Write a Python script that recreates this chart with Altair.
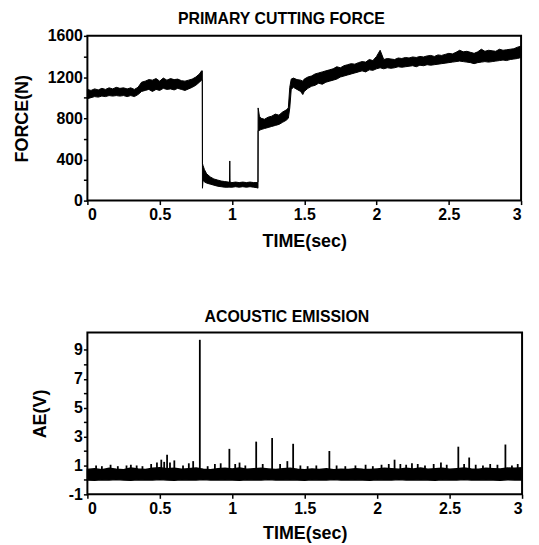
import altair as alt
import pandas as pd

# ---------------- data ----------------
# Primary cutting force: envelope (low / high) of the noisy trace
force_t = [0.00, 0.025, 0.05, 0.075, 0.10, 0.125, 0.15, 0.175, 0.20, 0.225, 0.25, 0.275, 0.30, 0.325,
           0.35, 0.375, 0.40, 0.425, 0.45, 0.475, 0.50, 0.525, 0.55, 0.575, 0.60, 0.625, 0.65, 0.675,
           0.70, 0.725, 0.75, 0.775, 0.79, 0.795,
           0.796, 0.80, 0.81, 0.825, 0.85, 0.875, 0.90, 0.925, 0.95, 0.975, 0.983, 0.985, 0.987,
           1.00, 1.025, 1.05, 1.075, 1.10, 1.125, 1.15, 1.175, 1.18,
           1.181, 1.19, 1.20, 1.225, 1.25, 1.275, 1.30, 1.325, 1.35, 1.375, 1.39,
           1.40, 1.41, 1.425, 1.45, 1.475, 1.49, 1.50, 1.525, 1.55, 1.575, 1.60, 1.625, 1.65, 1.675,
           1.70, 1.725, 1.75, 1.775, 1.80, 1.825, 1.85, 1.875, 1.90, 1.925, 1.95, 1.975, 2.00, 2.025,
           2.05, 2.075, 2.10, 2.125, 2.15, 2.175, 2.20, 2.225, 2.25, 2.275, 2.30, 2.325, 2.35, 2.375,
           2.40, 2.425, 2.45, 2.475, 2.50, 2.525, 2.55, 2.575, 2.60, 2.625, 2.65, 2.675, 2.70, 2.725,
           2.75, 2.775, 2.80, 2.825, 2.85, 2.875, 2.90, 2.925, 2.95, 2.975, 3.00]
force_lo = [990, 1000, 1010, 1005, 1015, 1010, 1020, 1015, 1020, 1015, 1020, 1010, 1020, 1010,
            1030, 1060, 1070, 1080, 1060, 1080, 1070, 1090, 1080, 1085, 1075, 1090, 1080, 1070,
            1085, 1100, 1120, 1150, 1170, 1170,
            120, 200, 180, 170, 160, 150, 140, 135, 130, 130, 130, 130, 130,
            130, 135, 130, 135, 130, 135, 130, 125, 120,
            680, 680, 690, 700, 710, 720, 730, 740, 760, 780, 800,
            900, 1080, 1100, 1080, 1060, 1030, 1060, 1090, 1110, 1120, 1140, 1130, 1150, 1160,
            1170, 1180, 1200, 1210, 1220, 1230, 1240, 1250, 1260, 1250, 1270, 1265, 1280, 1290,
            1280, 1290, 1285, 1290, 1300, 1295, 1300, 1305, 1310, 1300, 1315, 1310, 1320, 1315,
            1320, 1325, 1330, 1335, 1340, 1345, 1350, 1355, 1350, 1345, 1340, 1330, 1340, 1345,
            1350, 1345, 1350, 1355, 1360, 1365, 1360, 1370, 1375, 1380, 1390]
force_hi = [1080, 1070, 1085, 1075, 1090, 1080, 1095, 1085, 1100, 1090, 1095, 1085, 1095, 1080,
            1100, 1150, 1160, 1175, 1170, 1185, 1160, 1190, 1170, 1185, 1175, 1180, 1165, 1160,
            1170, 1180, 1200, 1230, 1260, 1260,
            360, 340, 300, 260, 230, 210, 200, 190, 185, 180, 180, 385, 180,
            175, 180, 175, 180, 175, 180, 175, 175, 180,
            900, 820, 800, 790, 810, 820, 840, 830, 860, 880, 900,
            1100, 1180, 1190, 1175, 1170, 1160, 1180, 1200, 1210, 1230, 1240, 1250, 1260, 1270,
            1280, 1300, 1290, 1310, 1320, 1330, 1325, 1340, 1350, 1345, 1370, 1360, 1400, 1460,
            1370, 1380, 1375, 1370, 1385, 1380, 1390, 1385, 1395, 1390, 1400, 1395, 1405, 1410,
            1400, 1415, 1410, 1420, 1430, 1425, 1440, 1460, 1445, 1450, 1440, 1430, 1445, 1470,
            1450, 1460, 1455, 1450, 1470, 1460, 1465, 1470, 1475, 1490, 1500]

# Acoustic emission: base noise band (low / high) and individual bursts
ae_band_t = [0.00, 0.05, 0.10, 0.15, 0.20, 0.25, 0.30, 0.35, 0.40, 0.45, 0.50, 0.55, 0.60, 0.65,
             0.70, 0.75, 0.80, 0.85, 0.90, 0.95, 1.00, 1.05, 1.10, 1.15, 1.20, 1.25, 1.30, 1.35,
             1.40, 1.45, 1.50, 1.55, 1.60, 1.65, 1.70, 1.75, 1.80, 1.85, 1.90, 1.95, 2.00, 2.05,
             2.10, 2.15, 2.20, 2.25, 2.30, 2.35, 2.40, 2.45, 2.50, 2.55, 2.60, 2.65, 2.70, 2.75,
             2.80, 2.85, 2.90, 2.95, 3.00]
ae_band_lo = [0.00, -0.02, 0.01, -0.01, 0.02, 0.00, -0.02, 0.01, 0.00, -0.01, 0.02, 0.00, -0.02,
              0.01, 0.00, -0.01, 0.02, 0.00, -0.01, 0.01, 0.00, -0.02, 0.01, 0.00, -0.01, 0.02,
              0.00, -0.01, 0.01, 0.00, -0.02, 0.01, 0.00, -0.01, 0.02, 0.00, -0.01, 0.01, 0.00,
              -0.02, 0.01, 0.00, -0.01, 0.02, 0.00, -0.01, 0.01, 0.00, -0.02, 0.01, 0.00, -0.01,
              0.02, 0.00, -0.01, 0.01, 0.00, -0.02, 0.01, 0.00, 0.00]
ae_band_hi = [0.72, 0.78, 0.70, 0.80, 0.74, 0.70, 0.82, 0.76, 0.72, 0.80, 0.85, 0.78, 0.80, 0.74,
              0.78, 0.82, 0.74, 0.70, 0.78, 0.80, 0.76, 0.82, 0.74, 0.78, 0.80, 0.76, 0.72, 0.78,
              0.80, 0.74, 0.70, 0.76, 0.72, 0.78, 0.70, 0.74, 0.72, 0.78, 0.74, 0.72, 0.76, 0.80,
              0.78, 0.74, 0.80, 0.76, 0.82, 0.74, 0.78, 0.80, 0.74, 0.78, 0.82, 0.76, 0.74, 0.80,
              0.78, 0.76, 0.82, 0.80, 0.84]
ae_spike_t = [0.06, 0.10, 0.16, 0.21, 0.27, 0.30, 0.34, 0.38, 0.44, 0.48, 0.51, 0.53, 0.55, 0.57,
              0.60, 0.66, 0.70, 0.73, 0.776, 0.83, 0.88, 0.92, 0.98, 1.02, 1.05, 1.09, 1.165, 1.21,
              1.275, 1.33, 1.38, 1.42, 1.47, 1.52, 1.58, 1.67, 1.72, 1.78, 1.85, 1.92, 1.97, 2.03,
              2.08, 2.12, 2.16, 2.20, 2.24, 2.28, 2.33, 2.39, 2.44, 2.48, 2.56, 2.60, 2.635, 2.68,
              2.73, 2.78, 2.83, 2.885, 2.93, 2.97]
ae_spike_v = [1.00, 0.95, 1.05, 0.95, 1.00, 1.05, 1.00, 0.95, 1.10, 1.20, 1.40, 1.25, 1.75, 1.20,
              1.35, 1.00, 1.15, 1.30, 9.70, 0.95, 1.10, 1.15, 2.15, 1.10, 1.20, 1.00, 2.65, 1.10,
              2.90, 1.10, 1.30, 2.50, 1.00, 0.95, 1.00, 2.00, 1.00, 0.95, 1.00, 1.05, 0.95, 1.05,
              1.10, 1.40, 1.10, 1.05, 1.15, 1.10, 1.00, 1.10, 1.20, 1.05, 2.30, 1.10, 1.55, 1.05,
              1.00, 1.10, 1.05, 2.45, 1.00, 1.10]

time_ticks = [0, 0.5, 1, 1.5, 2, 2.5, 3]
force_ticks = [0, 200, 400, 600, 800, 1000, 1200, 1400, 1600]
ae_ticks = [-1, 0, 1, 2, 3, 4, 5, 6, 7, 8, 9]

force_df = pd.DataFrame({"t": force_t, "lo": force_lo, "hi": force_hi})
band_df = pd.DataFrame({"t": ae_band_t, "lo": ae_band_lo, "hi": ae_band_hi})
spike_df = pd.DataFrame({"t": ae_spike_t, "v": ae_spike_v, "base": [0.4] * len(ae_spike_t)})

FONT = "Liberation Sans"

xs = alt.Scale(domain=[0, 3], nice=False, zero=False)

x_axis_top = alt.Axis(values=time_ticks, format="~g", title="TIME(sec)", grid=False,
                      tickSize=4, labelPadding=2, titlePadding=10, labelOverlap=False)
x_axis_bot = alt.Axis(values=time_ticks, format="~g", title="TIME(sec)", grid=False,
                      tickSize=4, labelPadding=2, titlePadding=8, labelOverlap=False)

force_chart = alt.Chart(force_df).mark_area(
    color="black", stroke="black", strokeWidth=1.0, opacity=1
).encode(
    x=alt.X("t:Q", scale=xs, axis=x_axis_top),
    y=alt.Y("lo:Q", scale=alt.Scale(domain=[0, 1600], nice=False),
            axis=alt.Axis(values=force_ticks, format="d", title="FORCE(N)", grid=False,
                          tickSize=4, labelPadding=1, titlePadding=16, labelOverlap=False,
                          labelExpr="datum.value % 400 == 0 ? datum.label : ''")),
    y2="hi:Q",
).properties(width=437, height=166,
             title=alt.TitleParams("PRIMARY CUTTING FORCE", offset=1, dx=-23))

ae_y = alt.Scale(domain=[-1, 10.2], nice=False, zero=False)
ae_axis = alt.Axis(values=ae_ticks, title="AE(V)", grid=False, tickSize=4, labelPadding=1,
                   titlePadding=19, labelOverlap=False,
                   labelExpr="(datum.value + 1) % 2 == 0 ? '' + datum.value : ''")

band = alt.Chart(band_df).mark_area(color="black", stroke="black", strokeWidth=1.5).encode(
    x=alt.X("t:Q", scale=xs, axis=x_axis_bot),
    y=alt.Y("lo:Q", scale=ae_y, axis=ae_axis),
    y2="hi:Q",
)
spikes = alt.Chart(spike_df).mark_rule(color="black", strokeWidth=1.8).encode(
    x=alt.X("t:Q", scale=xs, axis=x_axis_bot),
    y=alt.Y("base:Q", scale=ae_y, axis=ae_axis),
    y2="v:Q",
)
ae_chart = alt.layer(band, spikes).properties(
    width=438, height=163, title=alt.TitleParams("ACOUSTIC EMISSION", offset=8, dx=-18))

chart = alt.vconcat(force_chart, ae_chart, spacing=57).properties(
    padding={"left": 4, "top": 0, "right": 5, "bottom": 5}
).configure_view(
    stroke="black", strokeWidth=2
).configure_axis(
    domain=False, tickColor="black", tickWidth=1.5, labelOverlap=False,
    labelFont=FONT, labelFontSize=16, labelFontWeight="bold", labelColor="black",
    titleFont=FONT, titleFontSize=18, titleFontWeight="bold", titleColor="black",
).configure_title(
    font=FONT, fontSize=16, fontWeight="bold", color="black", anchor="middle"
)

chart.save("out.html", embed_options={"renderer": "svg", "actions": False})
